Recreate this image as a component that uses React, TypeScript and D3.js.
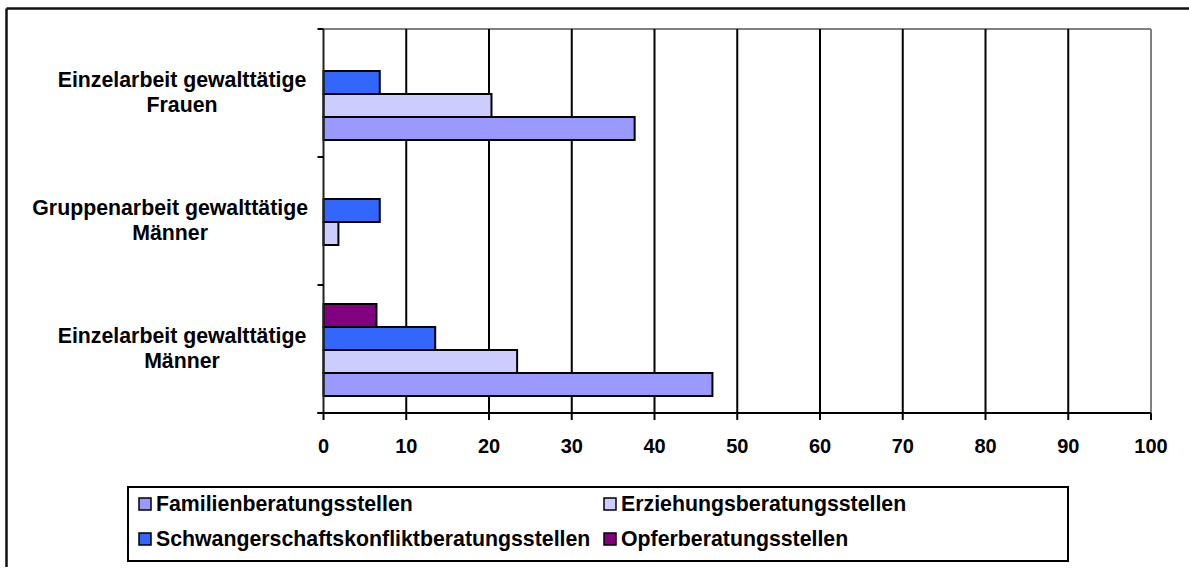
import React from "react";
import * as d3 from "d3";

const categories = [
  ["Einzelarbeit gewalttätige", "Frauen"],
  ["Gruppenarbeit gewalttätige", "Männer"],
  ["Einzelarbeit gewalttätige", "Männer"],
];
const seriesNames = [
  "Familienberatungsstellen",
  "Erziehungsberatungsstellen",
  "Schwangerschaftskonfliktberatungsstellen",
  "Opferberatungsstellen",
];
const seriesColors = ["#9999FF", "#CCCCFF", "#3366FF", "#800080"];
const familien = [37.6, 0, 47.0];
const erziehung = [20.3, 1.8, 23.4];
const schwanger = [6.8, 6.8, 13.5];
const opfer = [0, 0, 6.4];
const seriesValues = [familien, erziehung, schwanger, opfer];
const xTicks = [0, 10, 20, 30, 40, 50, 60, 70, 80, 90, 100];

const W = 1189;
const H = 569;
const plot = { left: 323.5, right: 1151, top: 29, bottom: 413 };
const FONT = "'Liberation Sans', Arial, sans-serif";
const LABEL_SIZE = 21.3;

function measure(text: string, size: number): number {
  if (typeof document === "undefined") return text.length * size * 0.55;
  const c = document.createElement("canvas").getContext("2d");
  if (!c) return text.length * size * 0.55;
  c.font = `bold ${size}px ${FONT}`;
  return c.measureText(text).width;
}

export default function App() {
  const x = d3.scaleLinear().domain([0, 100]).range([plot.left, plot.right]);
  const y = d3
    .scaleBand<number>()
    .domain(categories.map((_, i) => i))
    .range([plot.top, plot.bottom]);
  const bw = y.bandwidth();
  // series stacked top to bottom: last series on top
  const inner = d3
    .scaleBand<number>()
    .domain([3, 2, 1, 0])
    .range([19, 111]);

  const boundaries = d3.range(categories.length + 1).map(
    (i) => plot.top + i * bw
  );

  return (
    <svg
      width={W}
      height={H}
      style={{ position: "absolute", left: 0, top: 0, background: "#fff" }}
      fontFamily={FONT}
    >
      {/* outer border */}
      <line x1={6.5} y1={8.5} x2={W + 5} y2={8.5} stroke="#111" strokeWidth={2.5} />
      <line x1={6.5} y1={8.5} x2={6.5} y2={567} stroke="#111" strokeWidth={2.5} />

      {/* plot border top/right */}
      <line x1={plot.left} y1={plot.top} x2={plot.right} y2={plot.top} stroke="#808080" strokeWidth={2} />
      <line x1={plot.right} y1={plot.top} x2={plot.right} y2={plot.bottom} stroke="#808080" strokeWidth={2} />

      {/* gridlines */}
      {xTicks.slice(1, -1).map((t) => (
        <line key={t} x1={x(t)} x2={x(t)} y1={plot.top} y2={plot.bottom} stroke="#000" strokeWidth={2} />
      ))}

      {/* bars */}
      {categories.map((_, ci) =>
        seriesValues.map((vals, si) => {
          const v = vals[ci];
          if (!v) return null;
          return (
            <rect
              key={`${ci}-${si}`}
              x={x(0)}
              y={(y(ci) as number) + (inner(si) as number)}
              width={x(v) - x(0)}
              height={inner.bandwidth()}
              fill={seriesColors[si]}
              stroke="#000"
              strokeWidth={2}
            />
          );
        })
      )}

      {/* left axis */}
      <line x1={plot.left} x2={plot.left} y1={plot.top} y2={plot.bottom} stroke="#222" strokeWidth={2} />
      {boundaries.map((b, i) => (
        <line key={i} x1={plot.left - 6} x2={plot.left} y1={b} y2={b} stroke="#000" strokeWidth={2} />
      ))}

      {/* bottom axis */}
      <line x1={plot.left - 6} x2={plot.right} y1={plot.bottom} y2={plot.bottom} stroke="#000" strokeWidth={2} />
      {xTicks.map((t) => (
        <g key={t}>
          <line x1={x(t)} x2={x(t)} y1={plot.bottom} y2={plot.bottom + 7} stroke="#000" strokeWidth={2} />
          <text
            x={x(t)}
            y={446}
            textAnchor="middle"
            dominantBaseline="central"
            fontSize={20}
            fontWeight="bold"
          >
            {t}
          </text>
        </g>
      ))}

      {/* category labels */}
      {categories.map((lines, ci) => {
        const cy = (y(ci) as number) + bw / 2;
        const maxW = Math.max(...lines.map((l) => measure(l, LABEL_SIZE)));
        const cx = Math.min(182, 308 - maxW / 2);
        return (
          <text key={ci} textAnchor="middle" fontSize={LABEL_SIZE} fontWeight="bold" dominantBaseline="central">
            {lines.map((l, li) => (
              <tspan key={li} x={cx} y={cy - 13 + li * 25}>
                {l}
              </tspan>
            ))}
          </text>
        );
      })}

      {/* legend */}
      <rect x={128} y={487} width={940} height={74} fill="none" stroke="#000" strokeWidth={2} />
      {seriesNames.map((name, i) => {
        const col = i % 2;
        const row = Math.floor(i / 2);
        const lx = col === 0 ? 139 : 604;
        const ly = row === 0 ? 504 : 539;
        return (
          <g key={name}>
            <rect x={lx} y={ly - 6} width={12} height={12} fill={seriesColors[i]} stroke="#000" strokeWidth={1.5} />
            <text x={lx + 17} y={ly} dominantBaseline="central" fontSize={LABEL_SIZE} fontWeight="bold">
              {name}
            </text>
          </g>
        );
      })}
    </svg>
  );
}
